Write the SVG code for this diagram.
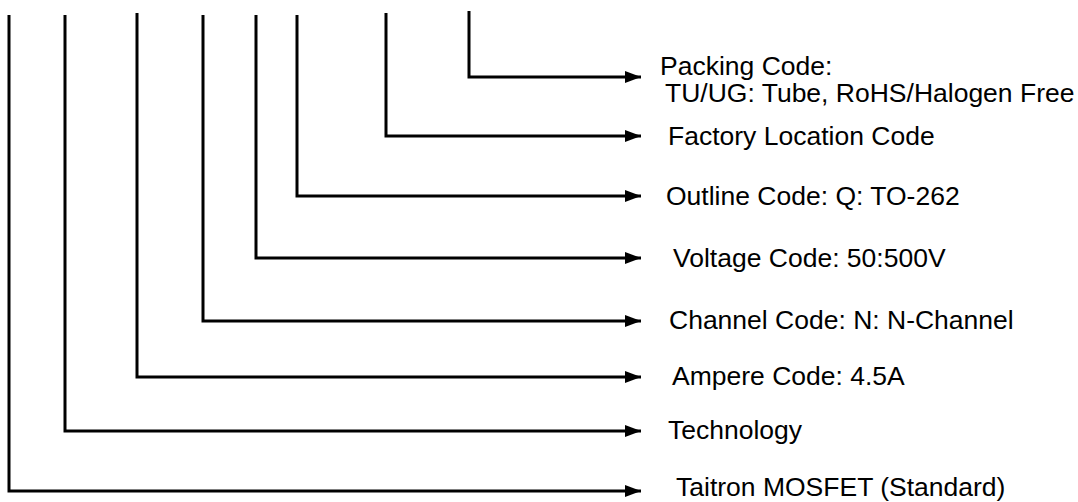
<svg xmlns="http://www.w3.org/2000/svg" width="1078" height="502" viewBox="0 0 1078 502">
<style>
.c{fill:none;stroke:#000;stroke-width:3;stroke-linejoin:miter;stroke-linecap:butt}
.t{font-family:"Liberation Sans",Arial,sans-serif;font-size:26.5px;fill:#000}
</style>
<defs>
<marker id="ah" markerUnits="userSpaceOnUse" markerWidth="18" markerHeight="14" refX="16" refY="7" orient="auto">
<path d="M0,1 L16,7 L0,13 Z" fill="#000"/>
</marker>
</defs>
<rect width="1078" height="502" fill="#fff"/>
<g id="connectors">
<path class="c" d="M469,11 V77 H641" marker-end="url(#ah)"/>
<path class="c" d="M386,13 V136 H641" marker-end="url(#ah)"/>
<path class="c" d="M297,15 V196 H641" marker-end="url(#ah)"/>
<path class="c" d="M256,15 V258 H641" marker-end="url(#ah)"/>
<path class="c" d="M203,15 V321 H641" marker-end="url(#ah)"/>
<path class="c" d="M137,13 V377 H641" marker-end="url(#ah)"/>
<path class="c" d="M65,15 V431 H641" marker-end="url(#ah)"/>
<path class="c" d="M9,15 V491 H641" marker-end="url(#ah)"/>
</g>
<g id="packing"><text class="t" x="660" y="75">Packing Code:</text><text class="t" x="665" y="102">TU/UG: Tube, RoHS/Halogen Free</text></g>
<g id="factory"><text class="t" x="668" y="145">Factory Location Code</text></g>
<g id="outline"><text class="t" x="666" y="205">Outline Code: Q: TO-262</text></g>
<g id="voltage"><text class="t" x="673" y="267">Voltage Code: 50:500V</text></g>
<g id="channel"><text class="t" x="669" y="329">Channel Code: N: N-Channel</text></g>
<g id="ampere"><text class="t" x="672" y="385">Ampere Code: 4.5A</text></g>
<g id="technology"><text class="t" x="668" y="439">Technology</text></g>
<g id="taitron"><text class="t" x="676" y="496">Taitron MOSFET (Standard)</text></g>
</svg>
